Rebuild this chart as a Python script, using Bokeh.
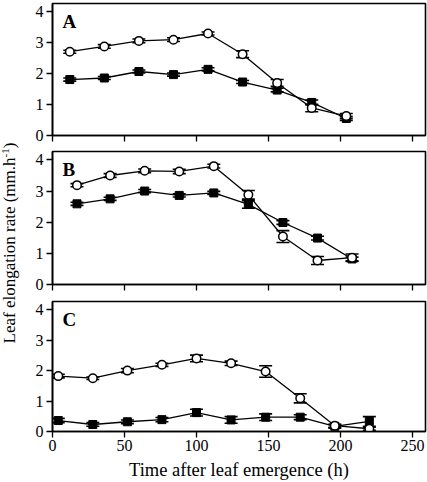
from bokeh.plotting import figure
from bokeh.layouts import column, row
from bokeh.models import ColumnDataSource, Whisker, Label, FixedTicker, Range1d, Div, TeeHead
from bokeh.embed import file_html
from bokeh.resources import INLINE

# ---- data ----
xA = [12, 36, 60, 84, 108, 132, 156, 180, 204]
openA = [2.71, 2.88, 3.06, 3.10, 3.30, 2.63, 1.70, 0.89, 0.63]
openA_err = [0.05, 0.06, 0.06, 0.06, 0.05, 0.11, 0.11, 0.12, 0.08]
fillA = [1.81, 1.86, 2.07, 1.97, 2.14, 1.73, 1.47, 1.07, 0.55]
fillA_err = [0.05, 0.05, 0.05, 0.05, 0.05, 0.05, 0.06, 0.08, 0.06]

xB = [17, 40, 64, 88, 112, 136, 160, 184, 208]
openB = [3.19, 3.50, 3.65, 3.63, 3.80, 2.88, 1.54, 0.77, 0.86]
openB_err = [0.05, 0.06, 0.06, 0.07, 0.06, 0.14, 0.19, 0.13, 0.12]
fillB = [2.59, 2.75, 3.00, 2.86, 2.94, 2.57, 1.99, 1.49, 0.82]
fillB_err = [0.05, 0.05, 0.05, 0.05, 0.05, 0.12, 0.06, 0.06, 0.06]

xC = [4, 28, 52, 76, 100, 124, 148, 172, 196, 220]
openC = [1.82, 1.75, 2.00, 2.19, 2.40, 2.24, 1.97, 1.09, 0.19, 0.09]
openC_err = [0.06, 0.04, 0.07, 0.05, 0.11, 0.07, 0.19, 0.15, 0.05, 0.05]
fillC = [0.36, 0.23, 0.32, 0.39, 0.62, 0.38, 0.47, 0.47, 0.17, 0.33]
fillC_err = [0.07, 0.06, 0.06, 0.07, 0.11, 0.11, 0.11, 0.08, 0.06, 0.16]

panel_letters = ["A", "B", "C"]
x_ticks = [0, 50, 100, 150, 200, 250]
y_ticks = [0, 1, 2, 3, 4]
x_title = "Time after leaf emergence (h)"

FONT = "Liberation Serif"


def make_panel(letter, x, o, oe, f, fe, top, frame_h, bottom, show_x):
    p = figure(width=405, height=top + frame_h + bottom, output_backend="svg",
               toolbar_location=None, x_range=Range1d(0, 259), y_range=Range1d(0, 4.27),
               min_border_left=30, min_border_right=2, min_border_top=top,
               min_border_bottom=bottom)
    p.grid.visible = False
    p.outline_line_color = "black"
    p.outline_line_width = 1.6
    p.background_fill_color = "white"
    p.border_fill_color = "white"
    for ax in (p.xaxis[0], p.yaxis[0]):
        ax.axis_line_width = 1.6
        ax.axis_line_color = "black"
        ax.major_tick_line_width = 1.3
        ax.major_tick_in = 0
        ax.major_tick_out = 6
        ax.minor_tick_line_color = None
        ax.major_label_text_font = FONT
        ax.major_label_text_font_size = "16px"
        ax.major_label_text_color = "black"
    p.xaxis.ticker = FixedTicker(ticks=x_ticks)
    p.yaxis.ticker = FixedTicker(ticks=y_ticks)
    p.yaxis.major_label_standoff = 3
    if show_x:
        p.xaxis.major_label_standoff = 2
        p.xaxis.axis_label = x_title
        p.xaxis.axis_label_text_font = FONT
        p.xaxis.axis_label_text_font_size = "18.5px"
        p.xaxis.axis_label_text_font_style = "normal"
        p.xaxis.axis_label_text_color = "black"
        p.xaxis.axis_label_standoff = 6
    else:
        p.xaxis.major_label_text_font_size = "1px"
        p.xaxis.major_label_text_color = None
        p.xaxis.major_label_standoff = 0

    src_f = ColumnDataSource(dict(x=x, y=f, lo=[a - b for a, b in zip(f, fe)], hi=[a + b for a, b in zip(f, fe)]))
    src_o = ColumnDataSource(dict(x=x, y=o, lo=[a - b for a, b in zip(o, oe)], hi=[a + b for a, b in zip(o, oe)]))

    for src in (src_f, src_o):
        w = Whisker(source=src, base="x", lower="lo", upper="hi", line_color="black", line_width=1.3,
                    upper_head=TeeHead(size=13, line_color="black", line_width=1.6),
                    lower_head=TeeHead(size=13, line_color="black", line_width=1.6))
        p.add_layout(w)

    p.line("x", "y", source=src_f, line_color="black", line_width=1.3)
    p.scatter("x", "y", source=src_f, marker="square", size=8, fill_color="black", line_color="black")
    p.line("x", "y", source=src_o, line_color="black", line_width=1.3)
    p.scatter("x", "y", source=src_o, marker="circle", size=8.5, fill_color="white", line_color="black",
              line_width=1.5)

    p.add_layout(Label(x=7, y=3.68, text=letter, text_font=FONT, text_font_size="19px",
                       text_font_style="bold", text_baseline="middle", text_color="black"))
    return p


pA = make_panel("A", xA, openA, openA_err, fillA, fillA_err, 3, 132, 15, False)
pB = make_panel("B", xB, openB, openB_err, fillB, fillB_err, 1, 133, 15, False)
pC = make_panel("C", xC, openC, openC_err, fillC, fillC_err, 2, 132, 49, True)

ylab = Div(width=22, height=482, margin=0,
           text='<div style="position:absolute;left:10px;top:243px;transform:translate(-50%,-50%) rotate(-90deg);'
                'white-space:nowrap;font-family:\'Liberation Serif\';font-size:17px;color:black;">'
                'Leaf elongation rate (mm.h<sup style="font-size:11px">-1</sup>)</div>')

layout = row(ylab, column(pA, pB, pC, spacing=0), spacing=0,
             styles={"position": "absolute", "top": "0px", "left": "0px"})

open("out.html", "w").write(file_html(layout, INLINE))
